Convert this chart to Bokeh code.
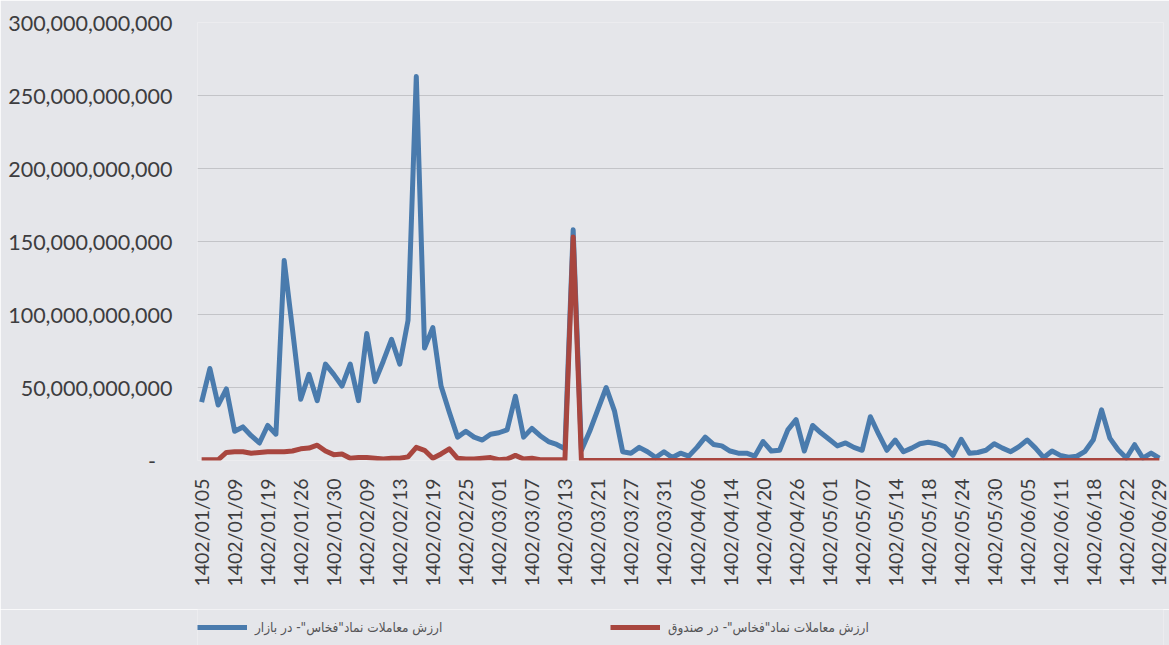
import numpy as np
from bokeh.plotting import figure
from bokeh.layouts import column
from bokeh.models import FixedTicker, NumeralTickFormatter, Legend, LegendItem
from bokeh.embed import file_html
from bokeh.resources import INLINE

# Tick labels shown on the category axis (every 4th trading day)
tick_labels = [
    "1402/01/05", "1402/01/09", "1402/01/19", "1402/01/26", "1402/01/30",
    "1402/02/09", "1402/02/13", "1402/02/19", "1402/02/25", "1402/03/01",
    "1402/03/07", "1402/03/13", "1402/03/21", "1402/03/27", "1402/03/31",
    "1402/04/06", "1402/04/14", "1402/04/20", "1402/04/26", "1402/05/01",
    "1402/05/07", "1402/05/14", "1402/05/18", "1402/05/24", "1402/05/30",
    "1402/06/05", "1402/06/11", "1402/06/18", "1402/06/22", "1402/06/29",
]

# Trading value in market (billion rials), one value per trading day
market_bn = [
    40, 63, 38, 49, 20, 23, 17, 12, 24, 18,
    137, 90, 42, 59, 41, 66, 59, 51, 66, 41,
    87, 54, 68, 83, 66, 96, 263, 77, 91, 51,
    33, 16, 20, 16, 14, 18, 19, 21, 44, 16,
    22, 17, 13, 11, 8, 158, 7, 20, 35, 50,
    34, 6, 5, 9, 6, 2, 6, 2, 5, 3,
    9, 16, 11, 10, 6.5, 5, 5, 3, 13, 6.5,
    7, 21, 28, 6.5, 24, 19, 14.5, 10, 12, 9,
    7, 30, 18, 7, 14, 6, 8.5, 11.5, 12.5, 11.5,
    9.5, 3.5, 14.5, 5, 5.5, 7, 11.5, 8.5, 6, 9.5,
    14, 8.5, 2, 6.5, 3.5, 2.2, 2.9, 6.3, 14.2, 34.7,
    15.3, 7.4, 1.7, 10.8, 1.7, 5.1, 1.7,
]

# Trading value in fund (billion rials)
fund_bn = [
    0.5, 0.5, 0.5, 5.5, 6, 6, 5, 5.5, 6, 6,
    6, 6.5, 8, 8.5, 10.5, 6.5, 4, 4.5, 1.5, 2,
    2, 1.5, 1, 1.5, 1.5, 2.5, 9, 7, 1.5, 4.5,
    8, 1.5, 1, 1, 1.5, 2, 0.5, 1, 3.5, 1,
    1.5, 0.5, 0.5, 0.5, 0.5, 153, 0, 0, 0, 0,
    0, 0, 0, 0, 0, 0, 0, 0, 0, 0,
    0, 0, 0, 0, 0, 0, 0, 0, 0, 0,
    0, 0, 0, 0, 0, 0, 0, 0, 0, 0,
    0, 0, 0, 0, 0, 0, 0, 0, 0, 0,
    0, 0, 0, 0, 0, 0, 0, 0, 0, 0,
    0, 0, 0, 0, 0, 0, 0, 0, 0, 0,
    0, 0, 0, 0, 0, 0, 0,
]

y_ticks = [0, 50e9, 100e9, 150e9, 200e9, 250e9, 300e9]
legend_labels = ['ارزش معاملات نماد"فخاس"- در بازار', 'ارزش معاملات نماد"فخاس"- در صندوق']

n = len(market_bn)
x = list(range(n))
market = [v * 1e9 for v in market_bn]
fund = [v * 1e9 for v in fund_bn]

BG = "#e5e6ea"
BLUE = "#4a7bad"
RED = "#a8463f"
LW = 5

p = figure(width=1169, height=609, output_backend="svg", toolbar_location=None,
           x_range=(-0.5, n - 0.5), y_range=(0, 300e9),
           min_border_left=197, min_border_right=6, min_border_top=22,
           min_border_bottom=149)
p.background_fill_color = BG
p.border_fill_color = BG
p.outline_line_color = None

r_blue = p.line(x, market, line_color=BLUE, line_width=LW, line_join="round")
r_red = p.line(x, fund, line_color=RED, line_width=LW, line_join="round")

# y axis
yax = p.yaxis[0]
yax.ticker = FixedTicker(ticks=y_ticks)
yax.formatter = NumeralTickFormatter(format="0,0")
yax.major_label_overrides = {0: "-\u00a0\u00a0\u00a0"}
yax.axis_line_color = None
yax.major_tick_line_color = None
yax.minor_tick_line_color = None
yax.major_tick_out = 0
yax.major_tick_in = 0
yax.major_label_standoff = 25
yax.major_label_text_font = "Lato"
yax.major_label_text_font_size = "21.5px"
yax.major_label_text_color = "#3d3d3f"

# x axis
xticks = list(range(0, n, 4))
xax = p.xaxis[0]
xax.ticker = FixedTicker(ticks=xticks)
xax.major_label_overrides = {t: lab for t, lab in zip(xticks, tick_labels)}
xax.major_label_orientation = np.pi / 2
xax.axis_line_color = None
xax.major_tick_line_color = None
xax.minor_tick_line_color = None
xax.major_tick_out = 0
xax.major_tick_in = 0
xax.major_label_standoff = 18
xax.major_label_text_font = "Lato"
xax.major_label_text_font_size = "19.5px"
xax.major_label_text_color = "#3d3d3f"

p.xgrid.visible = False
p.ygrid.ticker = FixedTicker(ticks=y_ticks)
p.ygrid.grid_line_color = "#c3c4c8"
p.ygrid.grid_line_width = 1

# Legend strip below the chart (its frame is aligned with the chart frame)
pl = figure(width=1169, height=36, output_backend="svg", toolbar_location=None,
            x_range=(0, 1), y_range=(0, 1), x_axis_type=None, y_axis_type=None,
            min_border=0)
pl.background_fill_color = BG
pl.border_fill_color = BG
pl.outline_line_color = None
pl.xgrid.visible = False
pl.ygrid.visible = False
# proxies (outside the visible range) that only supply the legend swatches
lb = pl.line([-10, -9], [-10, -9], line_color=BLUE, line_width=LW)
lr = pl.line([-10, -9], [-10, -9], line_color=RED, line_width=LW)

common = dict(orientation="horizontal", glyph_width=50, glyph_height=20,
              label_standoff=8, label_text_font="DejaVu Sans Condensed",
              label_text_font_size="13.5px", label_text_color="#555557",
              padding=0, margin=0, border_line_color=None,
              background_fill_alpha=0)
leg1 = Legend(items=[LegendItem(label=legend_labels[0], renderers=[lb])],
              location=(0, 8), **common)
leg2 = Legend(items=[LegendItem(label=legend_labels[1], renderers=[lr])],
              location=(413, 8), **common)
pl.add_layout(leg1, "center")
pl.add_layout(leg2, "center")

layout = column(p, pl, spacing=0)
open("out.html", "w").write(file_html(layout, INLINE))
